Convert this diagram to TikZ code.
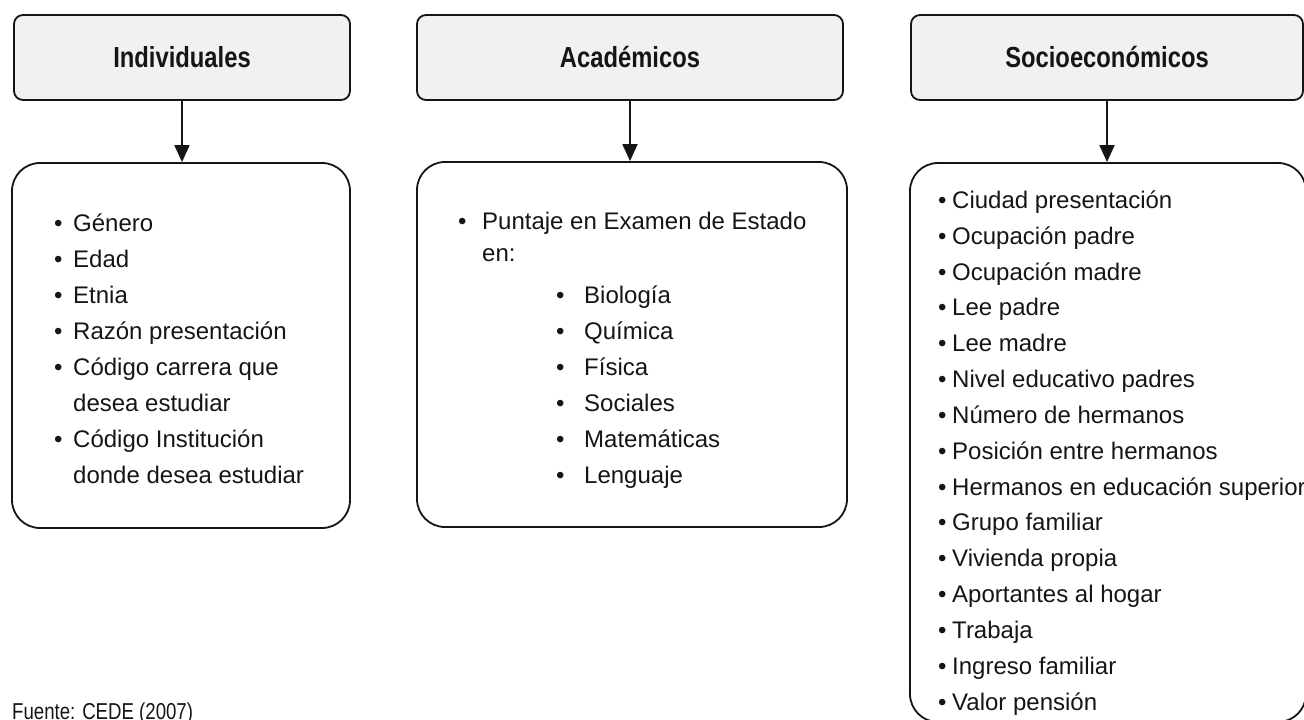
\documentclass[tikz,border=0pt]{standalone}
\usepackage{fontspec}
\setmainfont{Liberation Sans}
\newfontfamily\hdfont{Liberation Sans}[FakeStretch=0.82]
\newfontfamily\srcfont{Liberation Sans}[FakeStretch=0.81]
\usetikzlibrary{arrows.meta}
\definecolor{hdfill}{HTML}{F1F1F1}
\definecolor{ink}{HTML}{151515}
\newcommand{\bul}[2]{\makebox[#1][l]{•}#2}
\newcommand{\toplist}[1]{\parbox[t]{380pt}{\raggedright #1}}
\begin{document}
\begin{tikzpicture}[x=1pt,y=-1pt,
  hdbox/.style={draw=ink, line width=1.8pt, fill=hdfill, rounded corners=9pt, inner sep=0pt,
    font=\hdfont\bfseries\fontsize{29}{34}\selectfont, text=ink},
  bodybox/.style={draw=ink, line width=1.8pt, rounded corners=28pt, inner sep=0pt},
  listtext/.style={text=ink, inner sep=0pt, anchor=base west},
  link/.style={draw=ink, line width=1.8pt, -{Triangle[length=17pt,width=15pt]}}]
\useasboundingbox (0,0) rectangle (1304,720);
% headers
\node[hdbox, minimum width=336pt, minimum height=85pt] (h1) at (182,57.5) {Individuales};
\node[hdbox, minimum width=426pt, minimum height=85pt] (h2) at (630,57.5) {Académicos};
\node[hdbox, minimum width=392pt, minimum height=85pt] (h3) at (1107,57.5) {Socioeconómicos};
% bodies
\node[bodybox, minimum width=338pt, minimum height=365pt] (b1) at (181,345.5) {};
\node[bodybox, minimum width=430pt, minimum height=365pt] (b2) at (632,344.5) {};
\node[bodybox, minimum width=396pt, minimum height=559pt] (b3) at (1108,442.5) {};
% arrows
\draw[link] (h1.south) -- (h1.south |- b1.north);
\draw[link] (h2.south) -- (h2.south |- b2.north);
\draw[link] (h3.south) -- (h3.south |- b3.north);
% lists
\node[listtext, font=\fontsize{24}{36}\selectfont] (l1) at (54,231.5) {\toplist{%
\bul{19pt}{Género}\\
\bul{19pt}{Edad}\\
\bul{19pt}{Etnia}\\
\bul{19pt}{Razón presentación}\\
\bul{19pt}{Código carrera que}\\
\hspace*{19pt}desea estudiar\\
\bul{19pt}{Código Institución}\\
\hspace*{19pt}donde desea estudiar}};
\node[listtext, font=\fontsize{24}{36}\selectfont] (l2) at (458,229) {\toplist{%
\bul{24pt}{Puntaje en Examen de Estado}\\[-4pt]
\hspace*{24pt}en:\\[6pt]
\hspace*{98pt}\bul{28pt}{Biología}\\
\hspace*{98pt}\bul{28pt}{Química}\\
\hspace*{98pt}\bul{28pt}{Física}\\
\hspace*{98pt}\bul{28pt}{Sociales}\\
\hspace*{98pt}\bul{28pt}{Matemáticas}\\
\hspace*{98pt}\bul{28pt}{Lenguaje}}};
\node[listtext, font=\fontsize{24}{35.85}\selectfont] (l3) at (938,208.3) {\toplist{%
\bul{14pt}{Ciudad presentación}\\
\bul{14pt}{Ocupación padre}\\
\bul{14pt}{Ocupación madre}\\
\bul{14pt}{Lee padre}\\
\bul{14pt}{Lee madre}\\
\bul{14pt}{Nivel educativo padres}\\
\bul{14pt}{Número de hermanos}\\
\bul{14pt}{Posición entre hermanos}\\
\bul{14pt}{Hermanos en educación superior}\\
\bul{14pt}{Grupo familiar}\\
\bul{14pt}{Vivienda propia}\\
\bul{14pt}{Aportantes al hogar}\\
\bul{14pt}{Trabaja}\\
\bul{14pt}{Ingreso familiar}\\
\bul{14pt}{Valor pensión}}};
\node[listtext, font=\srcfont\fontsize{23}{27}\selectfont] (src) at (12,719) {Fuente: CEDE (2007)};
\end{tikzpicture}
\end{document}
